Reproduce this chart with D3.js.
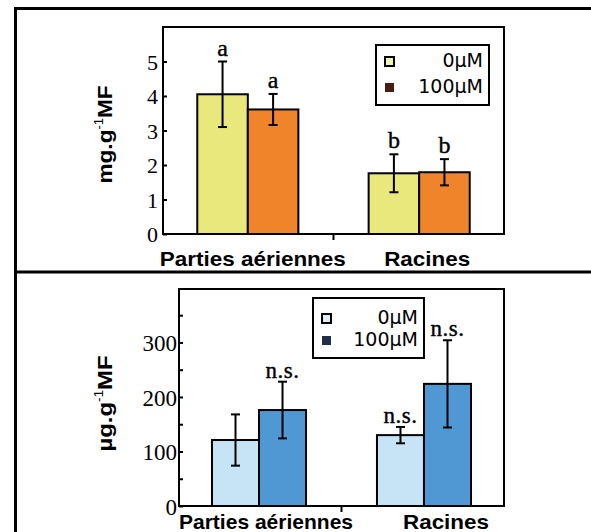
<!DOCTYPE html>
<html>
<head>
<meta charset="utf-8">
<script src="https://cdn.jsdelivr.net/npm/d3@7"></script>
<style>
  body { margin: 0; background: #fff; }
  svg { display: block; }
</style>
</head>
<body>
<svg id="chart"></svg>
<script>
// data
const groups = ['Parties aériennes', 'Racines'];
const series = ['0µM', '100µM'];

// top panel: mg.g-1 MF
const mgMean0 = [4.05, 1.76];
const mgMean100 = [3.61, 1.79];
const mgErr0 = [0.95, 0.55];
const mgErr100 = [0.45, 0.38];
const mgLetters0 = ['a', 'b'];
const mgLetters100 = ['a', 'b'];
const mgTicks = [0, 1, 2, 3, 4, 5];

// bottom panel: µg.g-1 MF
const ugMean0 = [121, 130];
const ugMean100 = [176, 224];
const ugErr0 = [47, 15];
const ugErr100 = [52, 80];
const ugLetters0 = ['', 'n.s.'];
const ugLetters100 = ['n.s.', 'n.s.'];
const ugTicks = [0, 100, 200, 300];
const ugMinorTicks = [50, 150, 250, 350];

const W = 591, H = 532;
const svg = d3.select('#chart').attr('width', W).attr('height', H);

const panels = [
  {
    label: ['mg.g', '-1', 'MF'],
    means: [mgMean0, mgMean100], errs: [mgErr0, mgErr100], letters: [mgLetters0, mgLetters100],
    ticks: mgTicks, minor: [], yMax: 6,
    colors: ['#e9e87c', '#f0842a'], swatch: ['#eef3b8', '#4a1d12'],
    left: 163, right: 504, top: 27, bottom: 234,
    padIn: 0.41, padOut: 0.2, tickPad: 5, tickFont: 22,
    ylabX: 112, ylabDy: 4, ylabW: 98, catY: 266, catDx: [5, 8], catW: [186, 86],
    legend: { x: 376, y: 45, w: 113, h: 60, sq: 9, rows: [67, 93] },
    letterFont: 24, letterGap: 6
  },
  {
    label: ['µg.g', '-1', 'MF'],
    means: [ugMean0, ugMean100], errs: [ugErr0, ugErr100], letters: [ugLetters0, ugLetters100],
    ticks: ugTicks, minor: ugMinorTicks, yMax: 398,
    colors: ['#c6e4f5', '#4f98d3'], swatch: ['#e2edf4', '#1f2f4a'],
    left: 179, right: 504, top: 289, bottom: 506,
    padIn: 0.43, padOut: 0.2, tickPad: 2, tickFont: 23,
    ylabX: 112, ylabDy: 6, ylabW: 96, catY: 529, catDx: [7, 22], catW: [174, 86],
    legend: { x: 313, y: 298, w: 111, h: 60, sq: 9, rows: [324, 346] },
    letterFont: 23, letterGap: 4
  }
];

// outer frame and separator
svg.append('path')
  .attr('d', `M${W + 5},8.5 H15.5 V${H + 5}`)
  .attr('fill', 'none').attr('stroke', '#000').attr('stroke-width', 3);
svg.append('line')
  .attr('x1', 15).attr('x2', W).attr('y1', 272).attr('y2', 272)
  .attr('stroke', '#000').attr('stroke-width', 3);

panels.forEach(p => {
  const g = svg.append('g');

  const x0 = d3.scaleBand().domain(groups)
    .range([p.left, p.right]).paddingInner(p.padIn).paddingOuter(p.padOut);
  const x1 = d3.scaleBand().domain(series).range([0, x0.bandwidth()]);
  const y = d3.scaleLinear().domain([0, p.yMax]).range([p.bottom, p.top]);

  // bars
  series.forEach((s, si) => {
    groups.forEach((grp, gi) => {
      const v = p.means[si][gi];
      const e = p.errs[si][gi];
      const bx = x0(grp) + x1(s);
      const cx = bx + x1.bandwidth() / 2;
      g.append('rect')
        .attr('x', bx).attr('y', y(v))
        .attr('width', x1.bandwidth()).attr('height', y(0) - y(v))
        .attr('fill', p.colors[si]).attr('stroke', '#000').attr('stroke-width', 2);
      // error bar
      g.append('line')
        .attr('x1', cx).attr('x2', cx).attr('y1', y(v + e)).attr('y2', y(v - e))
        .attr('stroke', '#000').attr('stroke-width', 2);
      [v + e, v - e].forEach(t => {
        g.append('line')
          .attr('x1', cx - 4.5).attr('x2', cx + 4.5).attr('y1', y(t)).attr('y2', y(t))
          .attr('stroke', '#000').attr('stroke-width', 2);
      });
      const lt = p.letters[si][gi];
      if (lt) {
        g.append('text')
          .attr('x', cx).attr('y', y(v + e) - p.letterGap)
          .attr('text-anchor', 'middle')
          .attr('font-family', '"Liberation Serif", "Times New Roman", serif')
          .attr('font-size', p.letterFont)
          .attr('letter-spacing', lt.length > 1 ? 0.5 : 0)
          .attr('stroke', '#000').attr('stroke-width', 0.4)
          .text(lt);
      }
    });
  });

  // plot frame
  g.append('rect')
    .attr('x', p.left).attr('y', p.top)
    .attr('width', p.right - p.left).attr('height', y(0) - p.top)
    .attr('fill', 'none').attr('stroke', '#000').attr('stroke-width', 2);

  // y axis
  const ax = g.append('g')
    .attr('transform', `translate(${p.left},0)`)
    .call(d3.axisLeft(y).tickValues(p.ticks).tickSize(-4).tickPadding(p.tickPad).tickFormat(d3.format('d')));
  ax.select('.domain').remove();
  ax.selectAll('.tick line').attr('stroke-width', 2);
  ax.selectAll('.tick text')
    .attr('font-family', '"Liberation Serif", "Times New Roman", serif')
    .attr('font-size', p.tickFont)
    .attr('fill', '#000')
    .attr('dy', '0.36em');
  if (p.minor.length) {
    const mx = g.append('g')
      .attr('transform', `translate(${p.left},0)`)
      .call(d3.axisLeft(y).tickValues(p.minor).tickSize(-4).tickFormat(''));
    mx.select('.domain').remove();
    mx.selectAll('.tick line').attr('stroke-width', 2);
  }

  // tick between the groups
  const mid = (x0(groups[0]) + x0(groups[1]) + x0.bandwidth()) / 2;
  g.append('line')
    .attr('x1', mid).attr('x2', mid).attr('y1', y(0)).attr('y2', y(0) + 6)
    .attr('stroke', '#000').attr('stroke-width', 2);

  // category labels
  groups.forEach((grp, gi) => {
    g.append('text')
      .attr('x', x0(grp) + x0.bandwidth() / 2 + p.catDx[gi])
      .attr('y', p.catY)
      .attr('text-anchor', 'middle')
      .attr('font-family', '"Liberation Sans", Arial, sans-serif')
      .attr('font-weight', 'bold')
      .attr('font-size', 21)
      .attr('textLength', p.catW[gi])
      .attr('lengthAdjust', 'spacingAndGlyphs')
      .text(grp);
  });

  // y label
  const cy = (p.top + y(0)) / 2 + p.ylabDy;
  const yl = g.append('text')
    .attr('transform', `translate(${p.ylabX},${cy}) rotate(-90)`)
    .attr('text-anchor', 'middle')
    .attr('font-family', '"Liberation Sans", Arial, sans-serif')
    .attr('font-weight', 'bold')
    .attr('font-size', 21)
    .attr('textLength', p.ylabW)
    .attr('lengthAdjust', 'spacingAndGlyphs');
  yl.append('tspan').text(p.label[0]);
  yl.append('tspan').attr('dy', -9).attr('font-size', 12).attr('font-weight', 'normal').text(p.label[1]);
  yl.append('tspan').attr('dy', 9).text(p.label[2]);

  // legend
  const L = p.legend;
  const lg = g.append('g');
  lg.append('rect')
    .attr('x', L.x).attr('y', L.y).attr('width', L.w).attr('height', L.h)
    .attr('fill', '#fff').attr('stroke', '#000').attr('stroke-width', 2);
  series.forEach((s, si) => {
    lg.append('rect')
      .attr('x', L.x + 9).attr('y', L.rows[si] - 10)
      .attr('width', L.sq).attr('height', L.sq)
      .attr('fill', p.swatch[si])
      .attr('stroke', '#000').attr('stroke-width', si === 0 ? 2 : 0);
    lg.append('text')
      .attr('x', L.x + L.w - 6).attr('y', L.rows[si])
      .attr('text-anchor', 'end')
      .attr('font-family', '"DejaVu Sans", sans-serif')
      .attr('font-size', 19)
      .text(s);
  });
});
</script>
</body>
</html>
